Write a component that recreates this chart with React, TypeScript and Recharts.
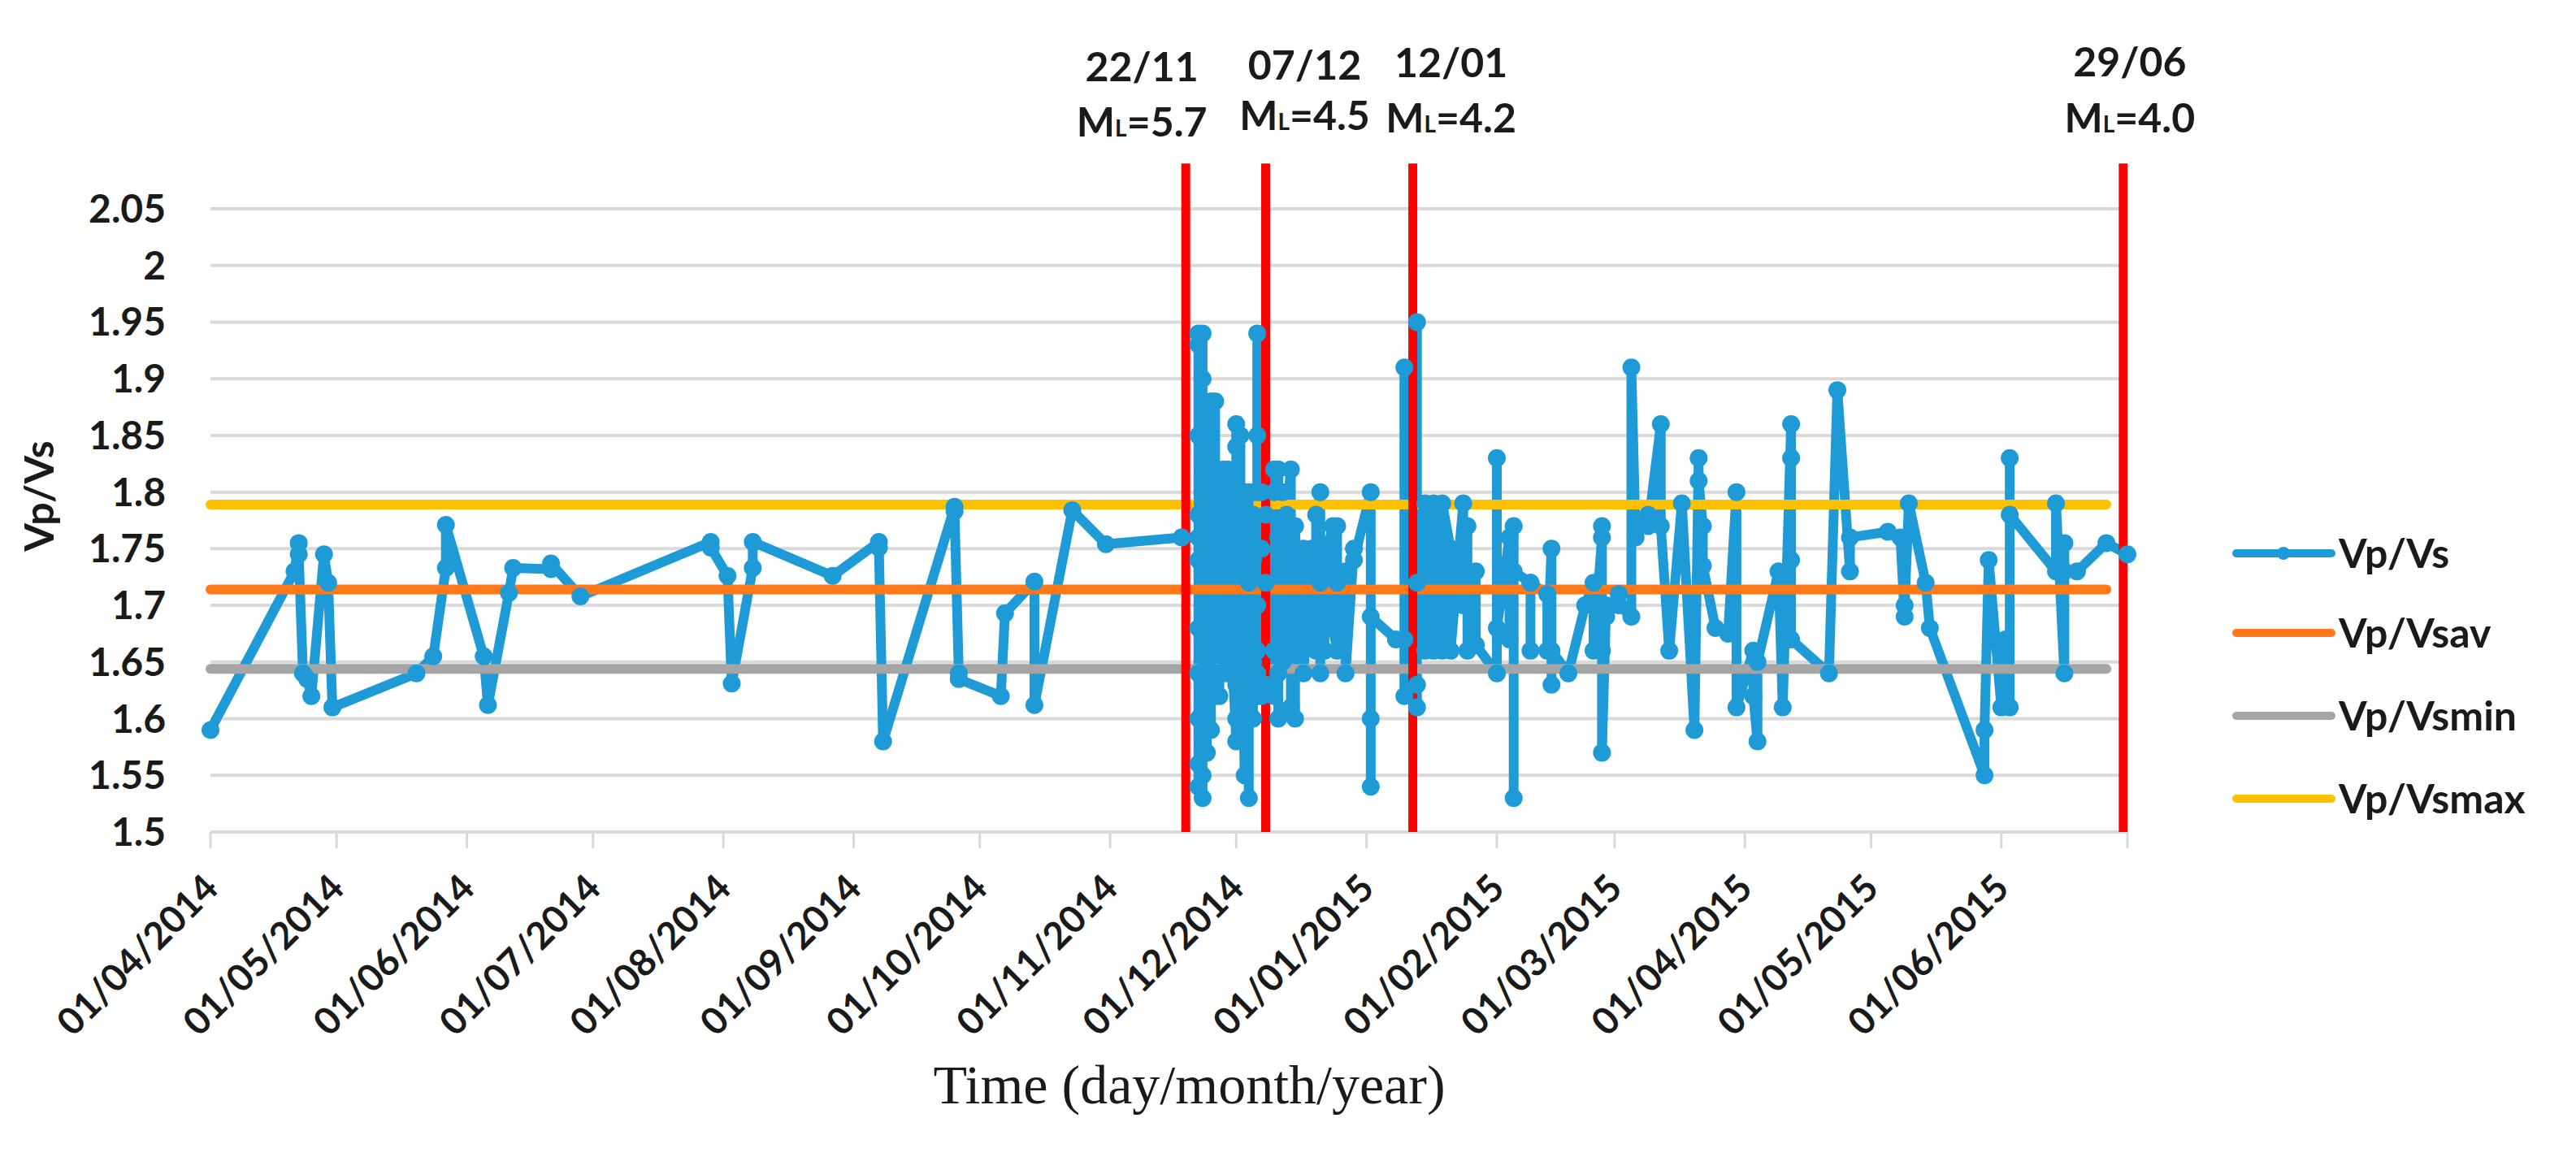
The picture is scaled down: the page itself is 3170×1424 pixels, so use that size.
import React from "react";
import { LineChart, Line, XAxis, YAxis, CartesianGrid, ReferenceLine } from "recharts";

const BLUE = "#1E9BD7";
const ORANGE = "#FF781A";
const GRAY = "#A5A5A5";
const YELLOW = "#FFC000";
const RED = "#FF0000";
const INK = "#1A1A1A";
const SANS = "Lato, 'Open Sans', sans-serif";
const SERIF = "'Liberation Serif', 'DejaVu Serif', serif";

// Vp/Vs readings, one row per day: [date, readings of that day in order]
const apr2014toNov2014: [string, number[]][] = [
  ["01/04/2014", [1.59]],
  ["21/04/2014", [1.73]],
  ["22/04/2014", [1.755, 1.745]],
  ["23/04/2014", [1.64]],
  ["24/04/2014", [1.635]],
  ["25/04/2014", [1.62]],
  ["28/04/2014", [1.745]],
  ["29/04/2014", [1.72]],
  ["30/04/2014", [1.61]],
  ["20/05/2014", [1.64]],
  ["24/05/2014", [1.655]],
  ["27/05/2014", [1.733, 1.771]],
  ["05/06/2014", [1.655]],
  ["06/06/2014", [1.612]],
  ["11/06/2014", [1.711]],
  ["12/06/2014", [1.733]],
  ["21/06/2014", [1.732, 1.737]],
  ["28/06/2014", [1.708]],
  ["29/07/2014", [1.756, 1.751]],
  ["02/08/2014", [1.726]],
  ["03/08/2014", [1.631]],
  ["08/08/2014", [1.733, 1.756]],
  ["27/08/2014", [1.726]],
  ["07/09/2014", [1.756, 1.751]],
  ["08/09/2014", [1.58]],
  ["25/09/2014", [1.787, 1.783]],
  ["26/09/2014", [1.64, 1.635]],
  ["06/10/2014", [1.62]],
  ["07/10/2014", [1.693]],
  ["14/10/2014", [1.721, 1.612]],
  ["23/10/2014", [1.784]],
  ["31/10/2014", [1.754]],
  ["18/11/2014", [1.76]],
];

const swarmNov2014: [string, number[]][] = [
  ["22/11/2014", [1.76, 1.93, 1.54, 1.94, 1.56, 1.85, 1.6, 1.78, 1.64, 1.74, 1.68]],
  ["23/11/2014", [1.53, 1.94, 1.55, 1.9, 1.58, 1.82, 1.62, 1.79, 1.66, 1.73]],
  ["24/11/2014", [1.57, 1.87, 1.6, 1.83, 1.65, 1.78, 1.63, 1.75, 1.69]],
  ["25/11/2014", [1.59, 1.88, 1.63, 1.8, 1.67, 1.77, 1.7]],
  ["26/11/2014", [1.62, 1.88, 1.64, 1.78, 1.7, 1.8, 1.66]],
  ["27/11/2014", [1.62, 1.8, 1.66, 1.76, 1.64, 1.79]],
  ["28/11/2014", [1.66, 1.82, 1.64, 1.77, 1.68, 1.8]],
  ["29/11/2014", [1.64, 1.82, 1.67, 1.75, 1.65, 1.78]],
  ["30/11/2014", [1.65, 1.79, 1.68, 1.81, 1.66]],
  ["01/12/2014", [1.58, 1.86, 1.6, 1.84, 1.66, 1.79, 1.63]],
  ["02/12/2014", [1.62, 1.85, 1.64, 1.8, 1.67, 1.78]],
  ["03/12/2014", [1.55, 1.8, 1.62, 1.76, 1.65, 1.79]],
  ["04/12/2014", [1.53, 1.78, 1.6, 1.72, 1.63, 1.8]],
  ["05/12/2014", [1.6, 1.8, 1.65, 1.74, 1.62, 1.78]],
  ["06/12/2014", [1.62, 1.94, 1.66, 1.85, 1.7, 1.8, 1.64]],
];

const dec2014toJan2015: [string, number[]][] = [
  ["07/12/2014", [1.75, 1.62, 1.8]],
  ["08/12/2014", [1.78, 1.63, 1.72]],
  ["10/12/2014", [1.82, 1.62, 1.8, 1.66]],
  ["11/12/2014", [1.64, 1.82, 1.6, 1.76]],
  ["12/12/2014", [1.77, 1.65, 1.8]],
  ["13/12/2014", [1.66, 1.78]],
  ["14/12/2014", [1.82, 1.61, 1.76]],
  ["15/12/2014", [1.6, 1.7, 1.77]],
  ["16/12/2014", [1.66, 1.74]],
  ["17/12/2014", [1.68, 1.75, 1.64]],
  ["19/12/2014", [1.75, 1.68]],
  ["20/12/2014", [1.66, 1.78]],
  ["21/12/2014", [1.8, 1.64, 1.72]],
  ["22/12/2014", [1.66, 1.74]],
  ["24/12/2014", [1.77, 1.68]],
  ["25/12/2014", [1.66, 1.77, 1.72]],
  ["27/12/2014", [1.73, 1.64]],
  ["29/12/2014", [1.75, 1.74]],
  ["02/01/2015", [1.8, 1.54, 1.6, 1.69]],
  ["08/01/2015", [1.67]],
];

const jan2015toJul2015: [string, number[]][] = [
  ["10/01/2015", [1.67, 1.91, 1.62]],
  ["13/01/2015", [1.95, 1.61, 1.63, 1.72]],
  ["15/01/2015", [1.79, 1.66]],
  ["17/01/2015", [1.79, 1.66, 1.75]],
  ["19/01/2015", [1.66, 1.79]],
  ["21/01/2015", [1.75, 1.66]],
  ["24/01/2015", [1.79, 1.7]],
  ["25/01/2015", [1.77, 1.66]],
  ["27/01/2015", [1.73, 1.665]],
  ["01/02/2015", [1.64, 1.83, 1.68]],
  ["04/02/2015", [1.76, 1.67]],
  ["05/02/2015", [1.77, 1.53, 1.73]],
  ["09/02/2015", [1.72, 1.66, 1.72]],
  ["13/02/2015", [1.71, 1.66]],
  ["14/02/2015", [1.75, 1.63, 1.66]],
  ["18/02/2015", [1.64]],
  ["22/02/2015", [1.7]],
  ["24/02/2015", [1.72, 1.66]],
  ["26/02/2015", [1.76, 1.77, 1.66, 1.57]],
  ["27/02/2015", [1.7, 1.69]],
  ["02/03/2015", [1.71, 1.7]],
  ["05/03/2015", [1.69, 1.91]],
  ["06/03/2015", [1.76]],
  ["09/03/2015", [1.78, 1.77]],
  ["12/03/2015", [1.86, 1.77]],
  ["14/03/2015", [1.66]],
  ["17/03/2015", [1.79]],
  ["20/03/2015", [1.59]],
  ["21/03/2015", [1.83, 1.81]],
  ["22/03/2015", [1.77, 1.735]],
  ["25/03/2015", [1.68]],
  ["28/03/2015", [1.675]],
  ["30/03/2015", [1.8, 1.61]],
  ["03/04/2015", [1.66, 1.62]],
  ["04/04/2015", [1.58, 1.65]],
  ["09/04/2015", [1.73]],
  ["10/04/2015", [1.61]],
  ["12/04/2015", [1.86, 1.83, 1.74, 1.67]],
  ["21/04/2015", [1.64]],
  ["23/04/2015", [1.89]],
  ["26/04/2015", [1.73, 1.76]],
  ["05/05/2015", [1.765]],
  ["08/05/2015", [1.76]],
  ["09/05/2015", [1.69, 1.7]],
  ["10/05/2015", [1.79]],
  ["14/05/2015", [1.72]],
  ["15/05/2015", [1.68]],
  ["28/05/2015", [1.55, 1.59]],
  ["29/05/2015", [1.74]],
  ["01/06/2015", [1.61]],
  ["02/06/2015", [1.67]],
  ["03/06/2015", [1.61, 1.83, 1.78]],
  ["14/06/2015", [1.73, 1.79]],
  ["16/06/2015", [1.64, 1.755, 1.73]],
  ["19/06/2015", [1.73]],
  ["26/06/2015", [1.755]],
  ["01/07/2015", [1.745]],
];

// reference levels
const levelAverage = 1.714;
const levelMin = 1.644;
const levelMax = 1.789;
const levelSpan = ["01/04/2014", "26/06/2015"];

// earthquakes marked with red lines (line placed where the original draws it)
const quakeLabels = ["22/11", "07/12", "12/01", "29/06"];
const quakeMagnitudes = ["5.7", "4.5", "4.2", "4.0"];
const quakeLineDates = ["19/11/2014", "08/12/2014", "12/01/2015", "30/06/2015"];

const xTickDates = [
  "01/04/2014", "01/05/2014", "01/06/2014", "01/07/2014", "01/08/2014", "01/09/2014",
  "01/10/2014", "01/11/2014", "01/12/2014", "01/01/2015", "01/02/2015", "01/03/2015",
  "01/04/2015", "01/05/2015", "01/06/2015", "01/07/2015",
];
const xTickLabels = xTickDates.slice(0, 15);
const yTicks = [1.5, 1.55, 1.6, 1.65, 1.7, 1.75, 1.8, 1.85, 1.9, 1.95, 2, 2.05];

const toTime = (s: string) => {
  const [d, m, y] = s.split("/").map(Number);
  return Date.UTC(y, m - 1, d);
};

const vpvs = [...apr2014toNov2014, ...swarmNov2014, ...dec2014toJan2015, ...jan2015toJul2015].flatMap(
  ([d, vals]) => vals.map((v) => ({ t: toTime(d), v }))
);
const level = (v: number) => levelSpan.map((d) => ({ t: toTime(d), v }));

const series = [
  { name: "Vp/Vs", color: BLUE, data: vpvs, marker: true },
  { name: "Vp/Vsav", color: ORANGE, data: level(levelAverage), marker: false },
  { name: "Vp/Vsmin", color: GRAY, data: level(levelMin), marker: false },
  { name: "Vp/Vsmax", color: YELLOW, data: level(levelMax), marker: false },
];

const W = 3170;
const H = 1424;

// label offsets from the top of each red line
const quakeLabelLayout = [
  { dx: -54, dy1: -101, dy2: -33 },
  { dx: 48, dy1: -103, dy2: -41 },
  { dx: 47, dy1: -106, dy2: -38 },
  { dx: 8, dy1: -107, dy2: -38 },
];

const QuakeLabel = (props: any) => {
  const { viewBox, i } = props;
  if (!viewBox) return null;
  const l = quakeLabelLayout[i];
  const cx = viewBox.x + l.dx;
  return (
    <g fontFamily={SANS} fontWeight={700} fontSize={50} fill={INK}>
      <text x={cx} y={viewBox.y + l.dy1} textAnchor="middle">{quakeLabels[i]}</text>
      <text x={cx} y={viewBox.y + l.dy2} textAnchor="middle">
        <tspan>M</tspan>
        <tspan fontSize={28}>L</tspan>
        <tspan>={quakeMagnitudes[i]}</tspan>
      </text>
    </g>
  );
};

const DateTick = (props: any) => {
  const { x, y, index } = props;
  const label = xTickLabels[index];
  if (!label) return null;
  return (
    <text
      transform={`translate(${x + 12},${y + 52}) rotate(-45)`}
      textAnchor="end"
      fontFamily={SANS}
      fontWeight={700}
      fontSize={46}
      fill={INK}
    >
      {label}
    </text>
  );
};

const XTitle = (props: any) => {
  const { viewBox } = props;
  if (!viewBox) return null;
  return (
    <text x={viewBox.x + viewBox.width / 2 + 25} y={viewBox.y + 334} textAnchor="middle" fontFamily={SERIF} fontSize={68} fill={INK}>
      Time (day/month/year)
    </text>
  );
};

const YTitle = (props: any) => {
  const { viewBox } = props;
  if (!viewBox) return null;
  return (
    <text
      transform={`translate(${viewBox.x + 66},${viewBox.y + viewBox.height / 2 - 30}) rotate(-90)`}
      textAnchor="middle"
      fontFamily={SANS}
      fontWeight={700}
      fontSize={50}
      fill={INK}
    >
      Vp/Vs
    </text>
  );
};

const legendRows = [681, 779, 881, 983];

export default function App() {
  return (
    <div style={{ position: "absolute", left: 0, top: 0, width: W, height: H, background: "#fff" }}>
      <LineChart width={W} height={H} margin={{ top: 257, right: 552, bottom: 0, left: 0 }}>
        <CartesianGrid vertical={false} stroke="#D9D9D9" strokeWidth={4} />
        <XAxis
          type="number"
          dataKey="t"
          domain={[toTime(xTickDates[0]), toTime(xTickDates[xTickDates.length - 1])]}
          ticks={xTickDates.map(toTime)}
          height={400}
          axisLine={false}
          tickLine={{ stroke: "#D9D9D9", strokeWidth: 3 }}
          tickSize={20}
          tickMargin={0}
          tick={<DateTick />}
          interval={0}
          label={<XTitle />}
        />
        <YAxis
          type="number"
          domain={[1.5, 2.05]}
          ticks={yTicks}
          width={259}
          axisLine={false}
          tickLine={false}
          tickSize={0}
          tickMargin={55}
          interval={0}
          tickFormatter={(v: number) => String(Number(v.toFixed(2)))}
          tick={{ fontFamily: SANS, fontWeight: 700, fontSize: 48, fill: INK }}
          label={<YTitle />}
        />
        {series.map((s) => (
          <Line
            key={s.name}
            data={s.data}
            dataKey="v"
            name={s.name}
            stroke={s.color}
            strokeWidth={s.marker ? 12 : 12}
            strokeLinejoin="round"
            strokeLinecap="round"
            dot={s.marker ? { r: 11, fill: s.color, stroke: s.color, strokeWidth: 0 } : false}
            activeDot={false}
            isAnimationActive={false}
          />
        ))}
        {quakeLineDates.map((d, i) => (
          <ReferenceLine
            key={d}
            segment={[
              { x: toTime(d), y: 1.5 },
              { x: toTime(d), y: 2.09 },
            ]}
            ifOverflow="visible"
            stroke={RED}
            strokeWidth={11}
            label={<QuakeLabel i={i} />}
          />
        ))}
      </LineChart>
      <svg width={W} height={H} style={{ position: "absolute", left: 0, top: 0, pointerEvents: "none" }}>
        {series.map((s, i) => (
          <g key={s.name}>
            <line x1={2752} x2={2869} y1={legendRows[i]} y2={legendRows[i]} stroke={s.color} strokeWidth={10} strokeLinecap="round" />
            {s.marker && <circle cx={2810} cy={legendRows[i]} r={8} fill={s.color} />}
            <text x={2878} y={legendRows[i] + 18} fontFamily={SANS} fontWeight={700} fontSize={50} fill={INK}>
              {s.name}
            </text>
          </g>
        ))}
      </svg>
    </div>
  );
}
